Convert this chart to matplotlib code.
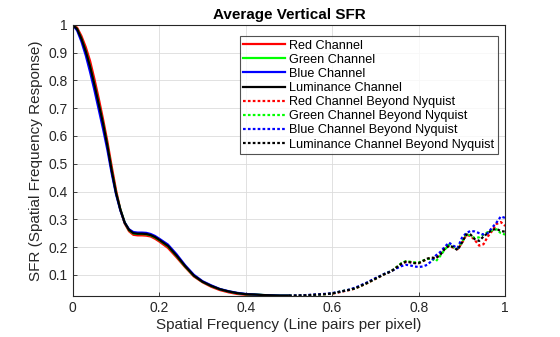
"""Average vertical SFR per channel"""
import matplotlib
matplotlib.use("Agg")
import matplotlib.pyplot as plt
from matplotlib.ticker import FuncFormatter

plt.rcParams['font.family'] = ['Liberation Sans', 'DejaVu Sans']

# up to Nyquist (0.5 line pairs per pixel)
freq_low = [0, 0.01, 0.02, 0.03, 0.04, 0.05, 0.06, 0.07, 0.08, 0.09, 0.10, 0.11,
            0.12, 0.13, 0.14, 0.15, 0.16, 0.17, 0.18, 0.19, 0.20, 0.22, 0.24, 0.26,
            0.28, 0.30, 0.32, 0.34, 0.36, 0.38, 0.40, 0.42, 0.44, 0.46, 0.48, 0.50]
red_low = [1.0, 0.99, 0.96, 0.92, 0.87, 0.805, 0.735, 0.66, 0.58, 0.49, 0.405, 0.335,
           0.285, 0.257, 0.244, 0.242, 0.242, 0.241, 0.238, 0.230, 0.220, 0.197, 0.163,
           0.127, 0.094, 0.073, 0.057, 0.045, 0.037, 0.031, 0.028, 0.027, 0.025, 0.024,
           0.024, 0.024]
green_low = [1.0, 0.985, 0.95, 0.905, 0.85, 0.785, 0.715, 0.645, 0.565, 0.475, 0.395,
             0.335, 0.288, 0.261, 0.249, 0.247, 0.247, 0.246, 0.242, 0.235, 0.225,
             0.203, 0.168, 0.13, 0.097, 0.075, 0.06, 0.048, 0.04, 0.034, 0.03, 0.029,
             0.027, 0.026, 0.025, 0.025]
blue_low = [1.0, 0.98, 0.94, 0.89, 0.83, 0.765, 0.695, 0.625, 0.55, 0.465, 0.39, 0.332,
            0.288, 0.264, 0.254, 0.252, 0.252, 0.251, 0.247, 0.240, 0.230, 0.209, 0.174,
            0.134, 0.1, 0.077, 0.062, 0.049, 0.041, 0.035, 0.031, 0.029, 0.027, 0.026,
            0.025, 0.025]
lum_low = [1.0, 0.985, 0.95, 0.905, 0.85, 0.785, 0.715, 0.645, 0.565, 0.475, 0.395,
           0.335, 0.288, 0.262, 0.25, 0.248, 0.248, 0.247, 0.243, 0.236, 0.226, 0.204,
           0.169, 0.131, 0.097, 0.075, 0.06, 0.048, 0.04, 0.034, 0.03, 0.029, 0.027,
           0.026, 0.025, 0.025]

# beyond Nyquist
freq_high = [0.50, 0.51, 0.52, 0.53, 0.54, 0.55, 0.56, 0.57, 0.58, 0.59, 0.60, 0.61,
             0.62, 0.63, 0.64, 0.65, 0.66, 0.67, 0.68, 0.69, 0.70, 0.71, 0.72, 0.73,
             0.74, 0.75, 0.76, 0.77, 0.78, 0.79, 0.80, 0.81, 0.82, 0.83, 0.84, 0.85,
             0.86, 0.87, 0.88, 0.89, 0.90, 0.91, 0.92, 0.93, 0.94, 0.95, 0.96, 0.97,
             0.98, 0.99, 1.00]
red_high = [0.024, 0.025, 0.025, 0.026, 0.026, 0.027, 0.028, 0.029, 0.030, 0.031, 0.032,
            0.035, 0.038, 0.042, 0.045, 0.049, 0.055, 0.062, 0.069, 0.077, 0.085, 0.093,
            0.101, 0.108, 0.117, 0.128, 0.139, 0.146, 0.146, 0.143, 0.142, 0.149, 0.157,
            0.160, 0.160, 0.176, 0.195, 0.203, 0.198, 0.192, 0.214, 0.243, 0.240, 0.225,
            0.205, 0.210, 0.238, 0.258, 0.283, 0.29, 0.276]
green_high = [0.025, 0.025, 0.025, 0.026, 0.026, 0.027, 0.028, 0.029, 0.030, 0.031,
              0.033, 0.036, 0.040, 0.043, 0.046, 0.050, 0.056, 0.063, 0.070, 0.078,
              0.086, 0.094, 0.102, 0.109, 0.117, 0.129, 0.142, 0.149, 0.147, 0.145,
              0.144, 0.151, 0.157, 0.158, 0.149, 0.168, 0.190, 0.208, 0.200, 0.195,
              0.218, 0.246, 0.242, 0.232, 0.235, 0.245, 0.254, 0.260, 0.264, 0.25, 0.245]
blue_high = [0.025, 0.025, 0.026, 0.026, 0.027, 0.028, 0.029, 0.030, 0.031, 0.032,
             0.034, 0.037, 0.040, 0.043, 0.047, 0.052, 0.058, 0.065, 0.072, 0.080,
             0.088, 0.095, 0.103, 0.109, 0.116, 0.124, 0.131, 0.136, 0.134, 0.130,
             0.128, 0.130, 0.136, 0.150, 0.170, 0.182, 0.200, 0.216, 0.205, 0.196,
             0.233, 0.250, 0.258, 0.256, 0.250, 0.245, 0.250, 0.270, 0.288, 0.31, 0.305]
lum_high = [0.025, 0.025, 0.025, 0.026, 0.026, 0.027, 0.028, 0.029, 0.030, 0.031, 0.033,
            0.036, 0.040, 0.043, 0.046, 0.050, 0.056, 0.063, 0.070, 0.078, 0.086, 0.094,
            0.102, 0.108, 0.116, 0.128, 0.140, 0.147, 0.145, 0.142, 0.142, 0.150, 0.158,
            0.162, 0.160, 0.172, 0.192, 0.205, 0.200, 0.189, 0.215, 0.245, 0.245, 0.228,
            0.222, 0.238, 0.250, 0.262, 0.265, 0.258, 0.255]

channel_names = ["Red", "Green", "Blue", "Luminance"]
channel_colors = ["#ff0000", "#00ff00", "#0000ff", "#000000"]
low_data = [red_low, green_low, blue_low, lum_low]
high_data = [red_high, green_high, blue_high, lum_high]

fig = plt.figure(figsize=(5.6, 3.37), dpi=100)
ax = fig.add_axes([0.130, 0.122, 0.772, 0.804])

for name, color, vals in zip(channel_names, channel_colors, low_data):
    ax.plot(freq_low, vals, color=color, lw=1.6, label=name + " Channel")
for name, color, vals in zip(channel_names, channel_colors, high_data):
    ax.plot(freq_high, vals, color=color, lw=1.6, ls=(0, (1.2, 1.0)),
            label=name + " Channel Beyond Nyquist")

all_vals = [v for s in low_data + high_data for v in s]
ax.set_xlim(0, 1)
ax.set_ylim(min(all_vals), 1)
ax.set_xticks([0, 0.2, 0.4, 0.6, 0.8, 1])
ax.set_yticks([0.1, 0.2, 0.3, 0.4, 0.5, 0.6, 0.7, 0.8, 0.9, 1])
fmt = FuncFormatter(lambda v, p: "%g" % v)
ax.xaxis.set_major_formatter(fmt)
ax.yaxis.set_major_formatter(fmt)
ax.tick_params(direction='in', length=3, labelsize=10, colors='#262626', width=0.6)
ax.grid(True, color='#dcdcdc', lw=0.6)
ax.set_axisbelow(True)
for sp in ax.spines.values():
    sp.set_color('#262626')
    sp.set_linewidth(0.8)

ax.set_xlabel("Spatial Frequency (Line pairs per pixel)", fontsize=11, color='#262626', labelpad=2)
ax.set_ylabel("SFR (Spatial Frequency Response)", fontsize=11, color='#262626', labelpad=4)
ax.set_title("Average Vertical SFR", fontsize=11, fontweight='bold', pad=4)

leg = ax.legend(loc='upper right', bbox_to_anchor=(0.983, 0.96), fontsize=9.1,
                frameon=True, fancybox=False, handlelength=3.3, handletextpad=0.3,
                labelspacing=0.17, borderpad=0.3, borderaxespad=0)
leg.get_frame().set_edgecolor('#262626')
leg.get_frame().set_linewidth(0.8)

fig.savefig("out.png", dpi=100)
